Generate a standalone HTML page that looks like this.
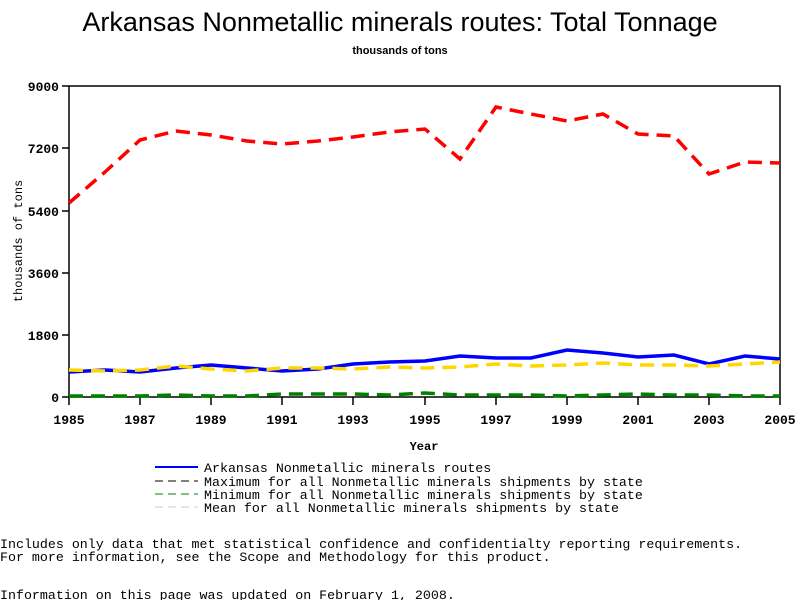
<!DOCTYPE html>
<html><head><style>
body{margin:0;background:#fff;width:800px;height:600px;overflow:hidden}
svg text{font-family:"Liberation Mono",monospace}
</style></head><body>
<svg width="800" height="600" xmlns="http://www.w3.org/2000/svg">
<text x="400" y="31" text-anchor="middle" style="font-family:'Liberation Sans',sans-serif" font-size="27">Arkansas Nonmetallic minerals routes: Total Tonnage</text>
<text x="400" y="54" text-anchor="middle" style="font-family:'Liberation Sans',sans-serif" font-size="11" font-weight="bold">thousands of tons</text>
<rect x="69" y="86" width="711" height="311" fill="none" stroke="#000" stroke-width="1.5"/>
<g stroke="#000" stroke-width="1.5">
<line x1="62" y1="86" x2="69" y2="86"/><line x1="62" y1="148" x2="69" y2="148"/><line x1="62" y1="211" x2="69" y2="211"/><line x1="62" y1="273" x2="69" y2="273"/><line x1="62" y1="335" x2="69" y2="335"/><line x1="62" y1="397" x2="69" y2="397"/>
<line x1="69" y1="397" x2="69" y2="405"/><line x1="140" y1="397" x2="140" y2="405"/><line x1="211" y1="397" x2="211" y2="405"/><line x1="282" y1="397" x2="282" y2="405"/><line x1="353" y1="397" x2="353" y2="405"/><line x1="425" y1="397" x2="425" y2="405"/><line x1="496" y1="397" x2="496" y2="405"/><line x1="567" y1="397" x2="567" y2="405"/><line x1="638" y1="397" x2="638" y2="405"/><line x1="709" y1="397" x2="709" y2="405"/><line x1="780" y1="397" x2="780" y2="405"/>
</g>
<g font-size="13" font-weight="bold" text-anchor="end">
<text x="59" y="91">9000</text><text x="59" y="153">7200</text><text x="59" y="216">5400</text><text x="59" y="278">3600</text><text x="59" y="340">1800</text><text x="59" y="402">0</text>
</g>
<g font-size="13" font-weight="bold" text-anchor="middle">
<text x="69" y="424">1985</text><text x="140" y="424">1987</text><text x="211" y="424">1989</text><text x="282" y="424">1991</text><text x="353" y="424">1993</text><text x="425" y="424">1995</text><text x="496" y="424">1997</text><text x="567" y="424">1999</text><text x="638" y="424">2001</text><text x="709" y="424">2003</text><text x="780" y="424">2005</text>
</g>
<text x="424" y="450" font-size="12" font-weight="bold" text-anchor="middle">Year</text>
<text transform="translate(22,241) rotate(-90)" font-size="12" text-anchor="middle">thousands of tons</text>
<polyline fill="none" stroke="#ff0000" stroke-width="3.5" stroke-dasharray="14,8" points="69,203 105,172 140,140 176,131 211,135 247,141 282,144 318,141 353,137 389,132 425,129 460,159 496,107 531,114 567,121 603,114 638,134 674,136 709,174 745,162 780,163"/>
<polyline fill="none" stroke="#008000" stroke-width="3.5" stroke-dasharray="14,8" points="69,396 105,396 140,396 176,395 211,396 247,396 282,394 318,394 353,394 389,395 425,393 460,395 496,395 531,395 567,396 603,395 638,394 674,395 709,395 745,396 780,396"/>
<polyline fill="none" stroke="#0000ff" stroke-width="3.5" points="69,372 105,370 140,372 176,368 211,365 247,368 282,371 318,369 353,364 389,362 425,361 460,356 496,358 531,358 567,350 603,353 638,357 674,355 709,364 745,356 780,359"/>
<polyline fill="none" stroke="#ffd700" stroke-width="3.5" stroke-dasharray="14,8" points="69,370 105,371 140,370 176,366 211,369 247,371 282,368 318,368 353,369 389,367 425,368 460,367 496,364 531,366 567,365 603,363 638,365 674,365 709,366 745,364 780,362"/>
<g stroke-width="2">
<line x1="155" y1="467" x2="198" y2="467" stroke="#0000ff"/>
<line x1="155" y1="481" x2="198" y2="481" stroke="#000" stroke-dasharray="8,5" stroke-width="1"/>
<line x1="155" y1="494" x2="198" y2="494" stroke="#008000" stroke-dasharray="8,5" stroke-width="1"/>
<line x1="155" y1="507" x2="198" y2="507" stroke="#ccc" stroke-dasharray="8,5" stroke-width="1"/>
</g>
<g font-size="13.3">
<text x="204" y="472">Arkansas Nonmetallic minerals routes</text>
<text x="204" y="486">Maximum for all Nonmetallic minerals shipments by state</text>
<text x="204" y="499">Minimum for all Nonmetallic minerals shipments by state</text>
<text x="204" y="512">Mean for all Nonmetallic minerals shipments by state</text>
<text x="0" y="548">Includes only data that met statistical confidence and confidentialty reporting requirements.</text>
<text x="0" y="561">For more information, see the Scope and Methodology for this product.</text>
<text x="0" y="599">Information on this page was updated on February 1, 2008.</text>
</g>
</svg>
</body></html>
